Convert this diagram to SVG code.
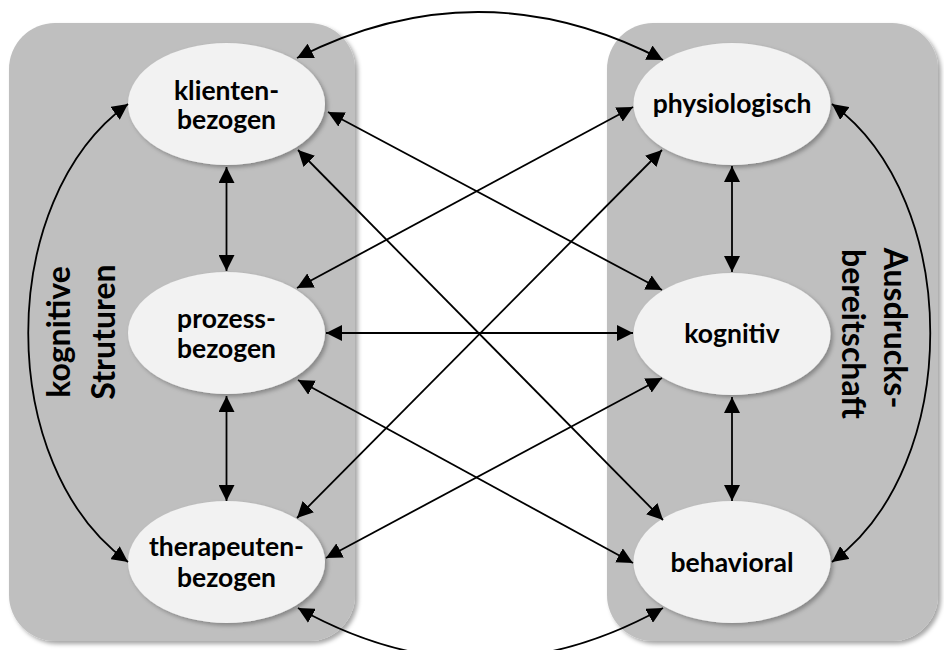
<svg xmlns="http://www.w3.org/2000/svg" width="944" height="650" viewBox="0 0 944 650">
  <defs>
    <filter id="shadow" x="-10%" y="-10%" width="130%" height="130%">
      <feDropShadow dx="3" dy="3" stdDeviation="2" flood-color="#000" flood-opacity="0.35"/>
    </filter>
    <filter id="nodeShadow" x="-10%" y="-10%" width="130%" height="130%">
      <feDropShadow dx="2.5" dy="2.5" stdDeviation="2" flood-color="#000" flood-opacity="0.3"/>
    </filter>
    <marker id="arrow" viewBox="0 0 16 16" refX="16" refY="8" markerWidth="16" markerHeight="16" markerUnits="userSpaceOnUse" orient="auto-start-reverse">
      <path d="M0,0 L16,8 L0,16 z" fill="#000"/>
    </marker>
    <style>
      .panel { fill: #bfbfbf; filter: url(#shadow); }
      .node ellipse { fill: #f2f2f2; filter: url(#nodeShadow); }
      .node text, .side text { font-family: Lato, "Open Sans", "Liberation Sans", sans-serif; font-weight: bold; fill: #000; text-anchor: middle; }
      .node text { font-size: 26.5px; }
      .side text { font-size: 32px; }
      .link { fill: none; stroke: #000; stroke-width: 1.8; marker-start: url(#arrow); marker-end: url(#arrow); }
    </style>
  </defs>

  <rect width="944" height="650" fill="#fff"/>

  <!-- two grouping panels -->
  <rect class="panel" x="9" y="23" width="346" height="618" rx="46" ry="46"/>
  <rect class="panel" x="607" y="23" width="331" height="618" rx="46" ry="46"/>

  <!-- panel titles -->
  <g class="side" id="label-kognitive-strukturen">
    <text transform="translate(70 332) rotate(-90)">kognitive</text>
    <text transform="translate(115 332) rotate(-90)">Struturen</text>
  </g>
  <g class="side" id="label-ausdrucksbereitschaft">
    <text transform="translate(884 328) rotate(90)">Ausdrucks-</text>
    <text transform="translate(842 334) rotate(90)">bereitschaft</text>
  </g>

  <!-- nodes -->
  <g class="node" id="klientenbezogen">
    <ellipse cx="226.5" cy="104" rx="98.5" ry="61"/>
    <text x="226.5" y="100">klienten-</text>
    <text x="226.5" y="129">bezogen</text>
  </g>
  <g class="node" id="prozessbezogen">
    <ellipse cx="226.5" cy="333" rx="98.5" ry="61"/>
    <text x="226.5" y="328">prozess-</text>
    <text x="226.5" y="358">bezogen</text>
  </g>
  <g class="node" id="therapeutenbezogen">
    <ellipse cx="226.5" cy="562" rx="98.5" ry="61"/>
    <text x="226.5" y="556">therapeuten-</text>
    <text x="226.5" y="587">bezogen</text>
  </g>
  <g class="node" id="physiologisch">
    <ellipse cx="732" cy="104" rx="98.5" ry="61"/>
    <text x="732" y="113">physiologisch</text>
  </g>
  <g class="node" id="kognitiv">
    <ellipse cx="732" cy="334" rx="98.5" ry="61"/>
    <text x="732" y="343">kognitiv</text>
  </g>
  <g class="node" id="behavioral">
    <ellipse cx="732" cy="562" rx="98.5" ry="61"/>
    <text x="732" y="572">behavioral</text>
  </g>

  <!-- connectors -->
  <g id="connectors">
    <!-- vertical links inside each panel -->
    <path class="link" d="M226.5,167 L226.5,271"/>
    <path class="link" d="M226.5,396 L226.5,501"/>
    <path class="link" d="M732,166 L732,272"/>
    <path class="link" d="M732,397 L732,501"/>
    <!-- horizontal link -->
    <path class="link" d="M326,333 L633,333"/>
    <!-- cross links -->
    <path class="link" d="M328,112 L662,290"/>
    <path class="link" d="M298,150 L663,520"/>
    <path class="link" d="M297,288 L633,107"/>
    <path class="link" d="M297,518 L662,150"/>
    <path class="link" d="M298,380 L633,563"/>
    <path class="link" d="M326,558 L662,378"/>
    <!-- outer arcs -->
    <path class="link" d="M297,58 Q480,-35 663,60"/>
    <path class="link" d="M298,608 Q480,710 663,608"/>
    <path class="link" d="M128,104 C-5,200 -5,466 128,562"/>
    <path class="link" d="M832,104 C963,200 963,466 832,562"/>
  </g>
</svg>
